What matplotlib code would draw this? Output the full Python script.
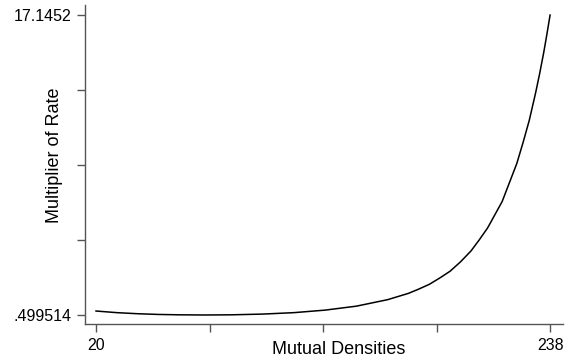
import matplotlib
matplotlib.use("Agg")
import matplotlib.pyplot as plt

# values
density = [20, 30, 40, 50, 60, 72, 85, 100, 115, 130, 145, 160, 170, 175, 180,
           185, 190, 195, 200, 204, 208, 211, 215, 218, 222, 225, 228, 231,
           233, 235, 236.5, 238]
multiplier = [0.72, 0.63, 0.57, 0.53, 0.51, 0.499514, 0.51, 0.55, 0.63, 0.77,
              0.99, 1.35, 1.70, 1.94, 2.20, 2.55, 2.93, 3.45, 4.05, 4.67, 5.33,
              5.96, 6.80, 7.70, 8.90, 10.06, 11.3, 12.8, 13.9, 15.1, 16.1,
              17.1452]

xticks = [20, 74.5, 129, 183.5, 238]
xticklabels = ["20", "", "", "", "238"]
yticks = [0.499514, 4.66094, 8.82237, 12.98379, 17.1452]
yticklabels = [".499514", "", "", "", "17.1452"]

plt.rcParams['font.family'] = ['Liberation Sans', 'DejaVu Sans']

fig = plt.figure(figsize=(5.66, 3.6), dpi=100)
ax = fig.add_axes([0.1502, 0.1, 0.8445, 0.886])

ax.plot(density, multiplier, color='black', linewidth=1.1)

ax.set_xlim(14.72, 244.2)
ax.set_ylim(0.0, 17.70)

ax.set_xticks(xticks)
ax.set_xticklabels(xticklabels)
ax.set_yticks(yticks)
ax.set_yticklabels(yticklabels)

for s in ['top', 'right']:
    ax.spines[s].set_visible(False)
for s in ['left', 'bottom']:
    ax.spines[s].set_color('#555555')
    ax.spines[s].set_linewidth(1.0)

ax.tick_params(axis='both', length=6, width=1.0, color='#555555',
               labelsize=11.5, pad=4)

ax.set_xlabel("Mutual Densities", fontsize=13)
ax.xaxis.set_label_coords(0.531, -0.053)
ax.xaxis.label.set_verticalalignment('top')
ax.set_ylabel("Multiplier of Rate", fontsize=13)
ax.yaxis.set_label_coords(-0.063, 0.53)
ax.yaxis.label.set_verticalalignment('center')

fig.savefig("out.png", dpi=100)
